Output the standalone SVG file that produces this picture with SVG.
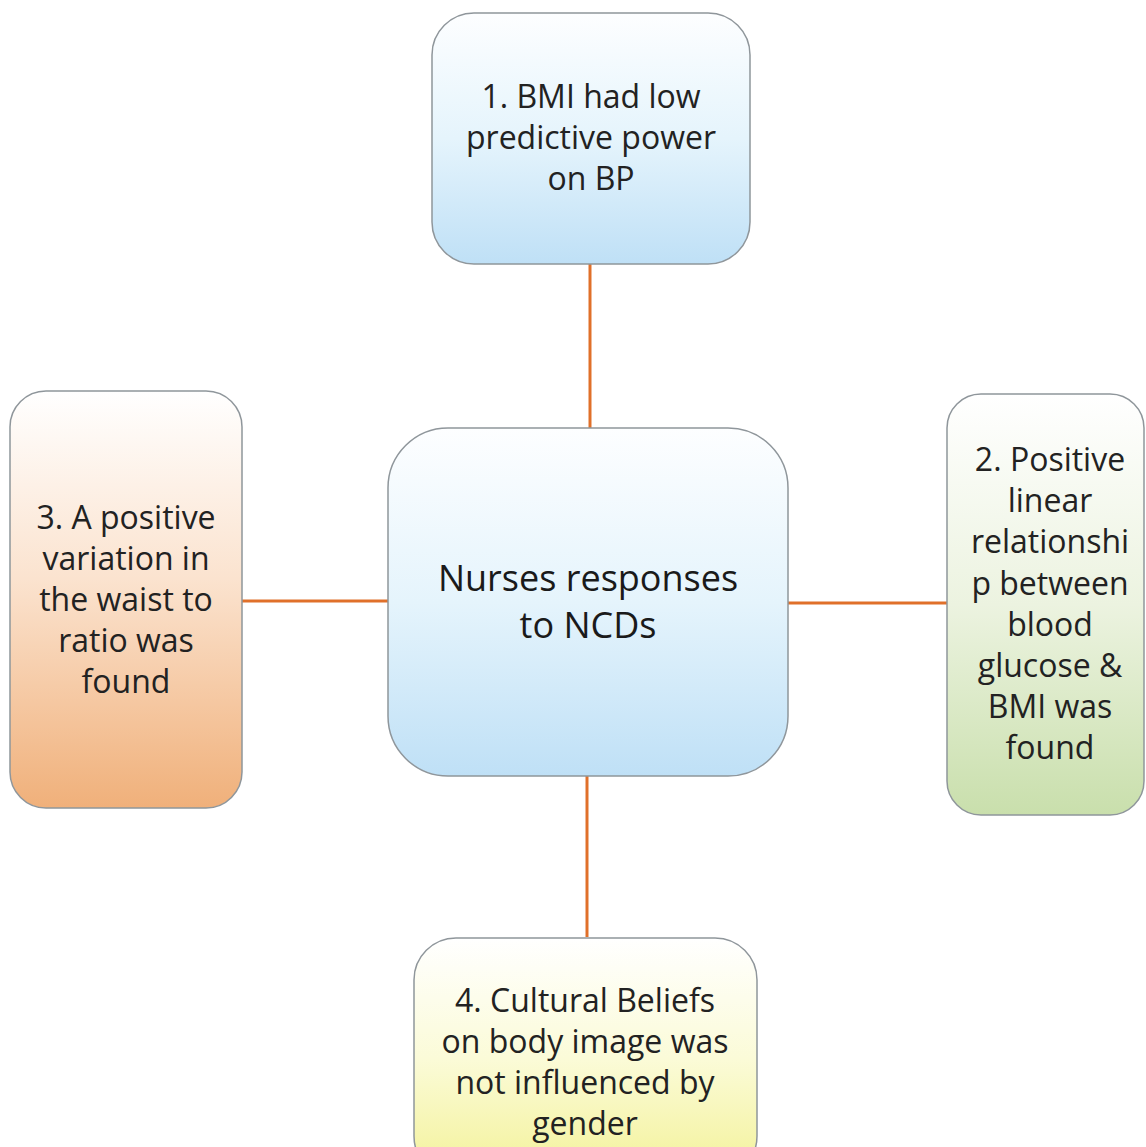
<svg xmlns="http://www.w3.org/2000/svg" width="1146" height="1147" viewBox="0 0 1146 1147">
<style>
.box{stroke:#8f969b;stroke-width:1.5}
.t{font-family:"Open Sans","Liberation Sans",sans-serif;font-size:32px;fill:#222222;text-anchor:middle}
.tc{font-family:"Open Sans","Liberation Sans",sans-serif;font-size:36px;fill:#1a1a1a;text-anchor:middle}
.c{stroke:#e0702a;stroke-width:3;fill:none}
</style>
<defs>
<linearGradient id="gBlue" x1="0" y1="0" x2="0" y2="1"><stop offset="0" stop-color="#fdfeff"/><stop offset="0.5" stop-color="#e5f4fc"/><stop offset="1" stop-color="#bfe0f6"/></linearGradient>
<linearGradient id="gOrange" x1="0" y1="0" x2="0" y2="1"><stop offset="0" stop-color="#ffffff"/><stop offset="0.45" stop-color="#fbe3cf"/><stop offset="1" stop-color="#f0b07a"/></linearGradient>
<linearGradient id="gGreen" x1="0" y1="0" x2="0" y2="1"><stop offset="0" stop-color="#ffffff"/><stop offset="0.5" stop-color="#ecf3e0"/><stop offset="1" stop-color="#c9dfac"/></linearGradient>
<linearGradient id="gYellow" x1="0" y1="0" x2="0" y2="1"><stop offset="0" stop-color="#ffffff"/><stop offset="0.5" stop-color="#fbfbd8"/><stop offset="1" stop-color="#f3f298"/></linearGradient>
</defs>
<rect width="1146" height="1147" fill="#ffffff"/>
<g id="connectors">
<line class="c" x1="590" y1="264" x2="590" y2="428"/>
<line class="c" x1="242" y1="601" x2="388" y2="601"/>
<line class="c" x1="788" y1="603" x2="947" y2="603"/>
<line class="c" x1="587" y1="776" x2="587" y2="937"/>
</g>
<g id="node-top">
<rect class="box" x="432" y="13" width="318" height="251" rx="42" fill="url(#gBlue)"/>
<text class="t" x="591" y="108">1. BMI had low</text>
<text class="t" x="591" y="149">predictive power</text>
<text class="t" x="591" y="190">on BP</text>
</g>
<g id="node-center">
<rect class="box" x="388" y="428" width="400" height="348" rx="60" fill="url(#gBlue)"/>
<text class="tc" x="588" y="591">Nurses responses</text>
<text class="tc" x="588" y="638">to NCDs</text>
</g>
<g id="node-left">
<rect class="box" x="10" y="391" width="232" height="417" rx="36" fill="url(#gOrange)"/>
<text class="t" x="126" y="529">3. A positive</text>
<text class="t" x="126" y="570">variation in</text>
<text class="t" x="126" y="611">the waist to</text>
<text class="t" x="126" y="652">ratio was</text>
<text class="t" x="126" y="693">found</text>
</g>
<g id="node-right">
<rect class="box" x="947" y="394" width="197" height="421" rx="34" fill="url(#gGreen)"/>
<text class="t" x="1050" y="471">2. Positive</text>
<text class="t" x="1050" y="512">linear</text>
<text class="t" x="1050" y="553">relationshi</text>
<text class="t" x="1050" y="595">p between</text>
<text class="t" x="1050" y="636">blood</text>
<text class="t" x="1050" y="677">glucose &amp;</text>
<text class="t" x="1050" y="718">BMI was</text>
<text class="t" x="1050" y="759">found</text>
</g>
<g id="node-bottom">
<rect class="box" x="414" y="938" width="343" height="240" rx="42" fill="url(#gYellow)"/>
<text class="t" x="585" y="1012">4. Cultural Beliefs</text>
<text class="t" x="585" y="1053">on body image was</text>
<text class="t" x="585" y="1094">not influenced by</text>
<text class="t" x="585" y="1135">gender</text>
</g>
</svg>
